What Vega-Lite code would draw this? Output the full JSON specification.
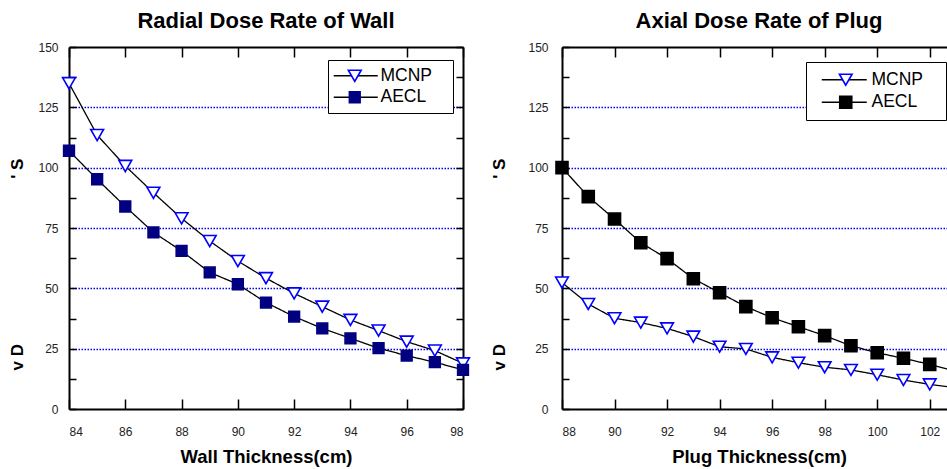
{
  "$schema": "https://vega.github.io/schema/vega-lite/v6.json",
  "padding": {"left": 8, "top": 10, "right": 5, "bottom": 5},
  "config": {
    "font": "Liberation Sans",
    "view": {"stroke": null},
    "title": {"fontSize": 22, "fontWeight": "bold", "color": "black", "offset": 8},
    "axis": {
      "domainColor": "black", "domainWidth": 2, "tickColor": "black", "tickWidth": 1.5,
      "labelFont": "Liberation Sans", "labelFontSize": 12, "labelColor": "#222222",
      "titleFont": "Liberation Sans", "titleColor": "black", "titleFontWeight": "bold"
    }
  },
  "datasets": {
    "wall": [
      {"t": 84, "v": 135.0, "series": "MCNP"}, {"t": 85, "v": 113.5, "series": "MCNP"}, {"t": 86, "v": 100.7, "series": "MCNP"},
      {"t": 87, "v": 89.6, "series": "MCNP"}, {"t": 88, "v": 79.0, "series": "MCNP"}, {"t": 89, "v": 69.6, "series": "MCNP"},
      {"t": 90, "v": 61.3, "series": "MCNP"}, {"t": 91, "v": 54.2, "series": "MCNP"}, {"t": 92, "v": 47.9, "series": "MCNP"},
      {"t": 93, "v": 42.4, "series": "MCNP"}, {"t": 94, "v": 36.9, "series": "MCNP"}, {"t": 95, "v": 32.5, "series": "MCNP"},
      {"t": 96, "v": 27.9, "series": "MCNP"}, {"t": 97, "v": 24.2, "series": "MCNP"}, {"t": 98, "v": 18.9, "series": "MCNP"},
      {"t": 84, "v": 107.0, "series": "AECL"}, {"t": 85, "v": 95.2, "series": "AECL"}, {"t": 86, "v": 83.9, "series": "AECL"},
      {"t": 87, "v": 73.2, "series": "AECL"}, {"t": 88, "v": 65.5, "series": "AECL"}, {"t": 89, "v": 56.6, "series": "AECL"},
      {"t": 90, "v": 51.7, "series": "AECL"}, {"t": 91, "v": 44.1, "series": "AECL"}, {"t": 92, "v": 38.3, "series": "AECL"},
      {"t": 93, "v": 33.4, "series": "AECL"}, {"t": 94, "v": 29.3, "series": "AECL"}, {"t": 95, "v": 25.2, "series": "AECL"},
      {"t": 96, "v": 22.1, "series": "AECL"}, {"t": 97, "v": 19.4, "series": "AECL"}, {"t": 98, "v": 16.2, "series": "AECL"}
    ],
    "plug": [
      {"t": 88, "v": 52.4, "series": "MCNP"}, {"t": 89, "v": 43.5, "series": "MCNP"}, {"t": 90, "v": 37.6, "series": "MCNP"},
      {"t": 91, "v": 35.8, "series": "MCNP"}, {"t": 92, "v": 33.4, "series": "MCNP"}, {"t": 93, "v": 30.0, "series": "MCNP"},
      {"t": 94, "v": 25.8, "series": "MCNP"}, {"t": 95, "v": 24.9, "series": "MCNP"}, {"t": 96, "v": 21.4, "series": "MCNP"},
      {"t": 97, "v": 19.2, "series": "MCNP"}, {"t": 98, "v": 17.3, "series": "MCNP"}, {"t": 99, "v": 16.2, "series": "MCNP"},
      {"t": 100, "v": 14.2, "series": "MCNP"}, {"t": 101, "v": 12.0, "series": "MCNP"}, {"t": 102, "v": 10.2, "series": "MCNP"},
      {"t": 103, "v": 8.8, "series": "MCNP"},
      {"t": 88, "v": 100.0, "series": "AECL"}, {"t": 89, "v": 88.0, "series": "AECL"}, {"t": 90, "v": 78.7, "series": "AECL"},
      {"t": 91, "v": 68.9, "series": "AECL"}, {"t": 92, "v": 62.3, "series": "AECL"}, {"t": 93, "v": 54.0, "series": "AECL"},
      {"t": 94, "v": 48.2, "series": "AECL"}, {"t": 95, "v": 42.4, "series": "AECL"}, {"t": 96, "v": 37.8, "series": "AECL"},
      {"t": 97, "v": 34.1, "series": "AECL"}, {"t": 98, "v": 30.4, "series": "AECL"}, {"t": 99, "v": 26.2, "series": "AECL"},
      {"t": 100, "v": 23.3, "series": "AECL"}, {"t": 101, "v": 21.0, "series": "AECL"}, {"t": 102, "v": 18.5, "series": "AECL"},
      {"t": 103, "v": 15.6, "series": "AECL"}
    ]
  },
  "spacing": 17,
  "resolve": {
    "scale": {"shape": "independent", "fill": "independent", "stroke": "independent", "size": "independent", "strokeDash": "independent"},
    "legend": {"shape": "independent", "fill": "independent", "stroke": "independent", "size": "independent", "strokeDash": "independent"}
  },
  "hconcat": [
    {
      "width": 394, "height": 362,
      "title": {"text": "Radial Dose Rate of Wall"},
      "data": {"name": "wall"},
      "resolve": {"axis": {"x": "independent", "y": "independent"}},
      "layer": [
        {
          "mark": {"type": "line", "color": "black", "strokeWidth": 1.3},
          "encoding": {
            "x": {"field": "t", "type": "quantitative", "scale": {"domain": [84, 98], "nice": false, "zero": false},
              "axis": {"orient": "bottom", "values": [84, 86, 88, 90, 92, 94, 96, 98], "tickSize": -10, "labelPadding": 27, "grid": false,
                "title": "Wall Thickness(cm)", "titleFontSize": 18.5, "titlePadding": 10}},
            "y": {"field": "v", "type": "quantitative", "scale": {"domain": [0, 150], "nice": false},
              "axis": {"orient": "left", "values": [0, 12.5, 25, 37.5, 50, 62.5, 75, 87.5, 100, 112.5, 125, 137.5, 150],
                "labelExpr": "datum.value % 25 === 0 ? datum.label : ''", "tickSize": -7, "labelPadding": 18,
                "grid": true, "gridColor": "#0000ee", "gridDash": [1.5, 1.5], "gridWidth": 1.6,
                "gridOpacity": {"condition": {"test": "datum.value % 25 === 0 && datum.value > 0 && datum.value < 150", "value": 1}, "value": 0},
                "title": "v\u00a0D\u00a0\u00a0\u00a0\u00a0\u00a0\u00a0\u00a0\u00a0\u00a0\u00a0\u00a0\u00a0\u00a0\u00a0\u00a0\u00a0\u00a0\u00a0\u00a0\u00a0\u00a0\u00a0\u00a0\u00a0\u00a0\u00a0\u00a0\u00a0\u00a0\u00a0\u00a0\u00a0\u00a0\u00a0\u00a0'\u00a0S",
                "titleFontSize": 17, "titleAngle": 270, "titleAlign": "center", "titleBaseline": "middle", "titleX": -52, "titleY": 217}},
            "strokeDash": {"field": "series", "type": "nominal", "sort": ["MCNP", "AECL"], "scale": {"range": [[1, 0], [1, 0]]},
              "legend": {"orient": "none", "legendX": 259, "legendY": 13, "title": null, "zindex": 1,
                "symbolType": "M -1.67 0 L 5.67 0", "symbolSize": 144, "symbolStrokeColor": "black", "symbolStrokeWidth": 1.3,
                "labelFontSize": 17.5, "labelColor": "black", "labelOffset": 28, "padding": 7, "rowPadding": 2.5,
                "labelExpr": "datum.label + '\u2800'",
                "strokeColor": "black", "fillColor": "white"}}
          }
        },
        {
          "mark": {"type": "point", "strokeWidth": 1.6, "opacity": 1},
          "encoding": {
            "x": {"field": "t", "type": "quantitative",
              "axis": {"orient": "top", "values": [84, 86, 88, 90, 92, 94, 96, 98], "tickSize": -10, "labels": false, "grid": false, "title": null}},
            "y": {"field": "v", "type": "quantitative",
              "axis": {"orient": "right", "values": [0, 12.5, 25, 37.5, 50, 62.5, 75, 87.5, 100, 112.5, 125, 137.5, 150], "tickSize": -7, "labels": false, "grid": false, "title": null}},
            "shape": {"field": "series", "type": "nominal", "scale": {"domain": ["MCNP", "AECL"], "range": ["triangle-down", "square"]},
              "legend": {"orient": "none", "legendX": 270, "legendY": 13, "title": null, "zindex": 2, "labelFontSize": 17.5, "labelExpr": "''", "padding": 7, "rowPadding": 2.5, "symbolStrokeWidth": 1.6}},
            "fill": {"field": "series", "type": "nominal", "scale": {"domain": ["MCNP", "AECL"], "range": ["white", "#000080"]},
              "legend": {"orient": "none", "legendX": 270, "legendY": 13, "title": null, "zindex": 2, "labelFontSize": 17.5, "labelExpr": "''", "padding": 7, "rowPadding": 2.5, "symbolStrokeWidth": 1.6}},
            "stroke": {"field": "series", "type": "nominal", "scale": {"domain": ["MCNP", "AECL"], "range": ["#0000ff", "#000080"]},
              "legend": {"orient": "none", "legendX": 270, "legendY": 13, "title": null, "zindex": 2, "labelFontSize": 17.5, "labelExpr": "''", "padding": 7, "rowPadding": 2.5, "symbolStrokeWidth": 1.6}},
            "size": {"field": "series", "type": "nominal", "scale": {"domain": ["MCNP", "AECL"], "range": [165, 115]},
              "legend": {"orient": "none", "legendX": 270, "legendY": 13, "title": null, "zindex": 2, "labelFontSize": 17.5, "labelExpr": "''", "padding": 7, "rowPadding": 2.5, "symbolStrokeWidth": 1.6}}
          }
        }
      ]
    },
    {
      "width": 394, "height": 362,
      "title": {"text": "Axial Dose Rate of Plug"},
      "data": {"name": "plug"},
      "resolve": {"axis": {"x": "independent", "y": "independent"}},
      "layer": [
        {
          "mark": {"type": "line", "color": "black", "strokeWidth": 1.3},
          "encoding": {
            "x": {"field": "t", "type": "quantitative", "scale": {"domain": [88, 103], "nice": false, "zero": false},
              "axis": {"orient": "bottom", "values": [88, 90, 92, 94, 96, 98, 100, 102], "tickSize": -10, "labelPadding": 27, "grid": false,
                "title": "Plug Thickness(cm)", "titleFontSize": 18.5, "titlePadding": 10}},
            "y": {"field": "v", "type": "quantitative", "scale": {"domain": [0, 150], "nice": false},
              "axis": {"orient": "left", "values": [0, 12.5, 25, 37.5, 50, 62.5, 75, 87.5, 100, 112.5, 125, 137.5, 150],
                "labelExpr": "datum.value % 25 === 0 ? datum.label : ''", "tickSize": -7, "labelPadding": 21,
                "grid": true, "gridColor": "#0000ee", "gridDash": [1.5, 1.5], "gridWidth": 1.6,
                "gridOpacity": {"condition": {"test": "datum.value % 25 === 0 && datum.value > 0 && datum.value < 150", "value": 1}, "value": 0},
                "title": "v\u00a0D\u00a0\u00a0\u00a0\u00a0\u00a0\u00a0\u00a0\u00a0\u00a0\u00a0\u00a0\u00a0\u00a0\u00a0\u00a0\u00a0\u00a0\u00a0\u00a0\u00a0\u00a0\u00a0\u00a0\u00a0\u00a0\u00a0\u00a0\u00a0\u00a0\u00a0\u00a0\u00a0\u00a0\u00a0\u00a0'\u00a0S",
                "titleFontSize": 17, "titleAngle": 270, "titleAlign": "center", "titleBaseline": "middle", "titleX": -63, "titleY": 217}},
            "strokeDash": {"field": "series", "type": "nominal", "sort": ["MCNP", "AECL"], "scale": {"range": [[1, 0], [1, 0]]},
              "legend": {"orient": "none", "legendX": 244, "legendY": 15, "title": null, "zindex": 1,
                "symbolType": "M -0.33 0 L 7.17 0", "symbolSize": 144, "symbolStrokeColor": "black", "symbolStrokeWidth": 1.3,
                "labelFontSize": 17.5, "labelColor": "black", "labelOffset": 39, "padding": 9, "rowPadding": 3.5,
                "labelExpr": "datum.label + '\u2800'",
                "strokeColor": "black", "fillColor": "white"}}
          }
        },
        {
          "mark": {"type": "point", "strokeWidth": 1.6, "opacity": 1},
          "encoding": {
            "x": {"field": "t", "type": "quantitative",
              "axis": {"orient": "top", "values": [88, 90, 92, 94, 96, 98, 100, 102], "tickSize": -10, "labels": false, "grid": false, "title": null}},
            "y": {"field": "v", "type": "quantitative",
              "axis": {"orient": "right", "values": [0, 12.5, 25, 37.5, 50, 62.5, 75, 87.5, 100, 112.5, 125, 137.5, 150], "tickSize": -7, "labels": false, "grid": false, "title": null}},
            "shape": {"field": "series", "type": "nominal", "scale": {"domain": ["MCNP", "AECL"], "range": ["triangle-down", "square"]},
              "legend": {"orient": "none", "legendX": 266, "legendY": 15, "title": null, "zindex": 2, "labelFontSize": 17.5, "labelExpr": "''", "padding": 9, "rowPadding": 3.5, "symbolStrokeWidth": 1.6}},
            "fill": {"field": "series", "type": "nominal", "scale": {"domain": ["MCNP", "AECL"], "range": ["white", "black"]},
              "legend": {"orient": "none", "legendX": 266, "legendY": 15, "title": null, "zindex": 2, "labelFontSize": 17.5, "labelExpr": "''", "padding": 9, "rowPadding": 3.5, "symbolStrokeWidth": 1.6}},
            "stroke": {"field": "series", "type": "nominal", "scale": {"domain": ["MCNP", "AECL"], "range": ["#0000ff", "black"]},
              "legend": {"orient": "none", "legendX": 266, "legendY": 15, "title": null, "zindex": 2, "labelFontSize": 17.5, "labelExpr": "''", "padding": 9, "rowPadding": 3.5, "symbolStrokeWidth": 1.6}},
            "size": {"field": "series", "type": "nominal", "scale": {"domain": ["MCNP", "AECL"], "range": [160, 144]},
              "legend": {"orient": "none", "legendX": 266, "legendY": 15, "title": null, "zindex": 2, "labelFontSize": 17.5, "labelExpr": "''", "padding": 9, "rowPadding": 3.5, "symbolStrokeWidth": 1.6}}
          }
        }
      ]
    }
  ]
}
